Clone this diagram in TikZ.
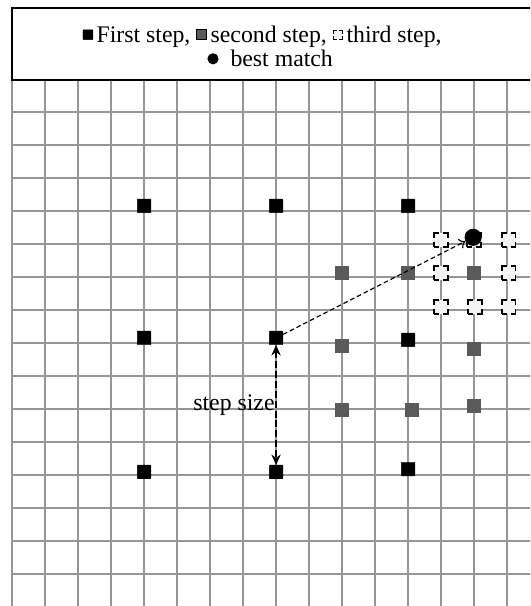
\documentclass[tikz,border=0pt]{standalone}
\usepackage{fontspec}
\setmainfont{Liberation Serif}
\usetikzlibrary{arrows.meta,positioning}
\definecolor{GridClr}{RGB}{150,150,150}
\definecolor{SecondClr}{RGB}{90,90,90}
\definecolor{ThirdClr}{RGB}{244,244,244}

\tikzset{
  firstmark/.style={draw=black,fill=black,minimum size=0.41cm,inner sep=0pt,rounded corners=0.5pt},
  secondmark/.style={fill=SecondClr,minimum size=0.41cm,inner sep=0pt},
  thirdmark/.style={draw=black,fill=ThirdClr,line width=1.2pt,dash pattern=on 9pt off 3pt,dash phase=4.5pt,minimum size=12pt,inner sep=0pt},
  bestmark/.style={circle,fill=black,minimum size=0.52cm,inner sep=0pt},
  gridline/.style={GridClr,line width=1.3pt}
}
\newcommand{\legmark}[2][]{\tikz[baseline=-0.75ex]\node[#2,#1]{};}

\begin{document}
\begin{tikzpicture}[x=1cm,y=1cm,font=\fontsize{20.5}{22}\selectfont]
\useasboundingbox (-0.364,0.03) rectangle (15.70,18.39);
\clip (-0.364,0.03) rectangle (15.70,18.39);

% grid
\foreach \u in {0,...,15}
  \draw[gridline] (\u,0) -- (\u,15.97);
\foreach \v in {1,...,15}
  \draw[gridline] (0,\v) -- (16,\v);

% legend
\draw[line width=1.1pt,fill=white] (0,15.97) rectangle (16.5,18.15);
\node[anchor=base] (leg1) at (7.58,17.09) {\legmark[minimum size=0.3cm]{firstmark}\hspace{3pt}First step, \legmark[minimum size=0.3cm,draw=black,line width=0.8pt]{secondmark}\hspace{3pt}second step, \legmark[minimum size=8pt,line width=0.8pt,dash pattern=on 6pt off 2pt,dash phase=3pt]{thirdmark}\hspace{3pt}third step,};
\node[anchor=base] (leg2) at (7.82,16.36) {\legmark[minimum size=0.34cm]{bestmark}~~best match};

\foreach \name/\pos in {F1/{4,12.15},F2/{8,12.15},F3/{12,12.15},
                        F4/{4,8.15},F5/{8,8.15},F6/{12,8.09},
                        F7/{4,4.09},F8/{8,4.09},F9/{12,4.18}}
  \node[firstmark] (\name) at (\pos) {};

\foreach \name/\pos in {S1/{10,10.12},S2/{12,10.12},S3/{14,10.12},
                        S4/{10,7.91},S5/{14,7.82},
                        S6/{10,5.97},S7/{12.12,5.97},S8/{14,6.09}}
  \node[secondmark] (\name) at (\pos) {};

\foreach \name/\pos in {T1/{13,11.12},T2/{14,11.12},T3/{15.05,11.12},
                        T4/{13,10.12},T5/{15.05,10.12},
                        T6/{13,9.09},T7/{14.03,9.09},T8/{15.05,9.09}}
  \node[thirdmark] (\name) at (\pos) {};

\node[bestmark] (B) at (13.97,11.2) {};

\draw[line width=1pt,dash pattern=on 4pt off 2.5pt,-{To[length=5pt,width=9pt]}] (F5) -- (B);
\draw[line width=1.6pt,dash pattern=on 6pt off 2.5pt,{Stealth[length=9pt,width=8pt]}-{Stealth[length=9pt,width=8pt]}] (F5) -- node[left,inner sep=0.5pt] (stepsize) {step size} (F8);

\end{tikzpicture}
\end{document}
